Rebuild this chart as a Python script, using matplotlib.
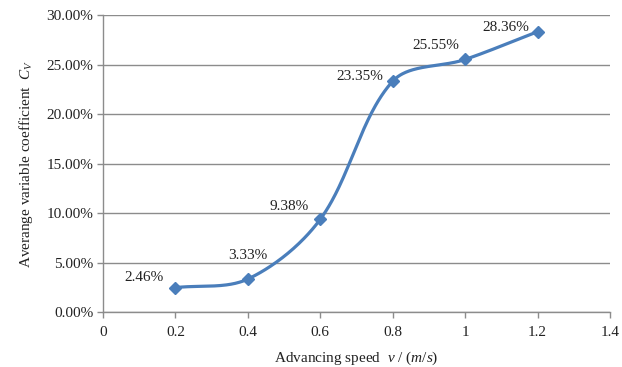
import numpy as np
import matplotlib
matplotlib.use("Agg")
import matplotlib.pyplot as plt
from matplotlib.ticker import FuncFormatter

speed = [0.2, 0.4, 0.6, 0.8, 1.0, 1.2]
cv = [2.46, 3.33, 9.38, 23.35, 25.55, 28.36]
labels = ["2.46%", "3.33%", "9.38%", "23.35%", "25.55%", "28.36%"]
label_offsets_px = [(-31, 10), (0, 24), (-31, 13), (-33, 5), (-29, 14), (-32, 4)]

plt.rcParams['font.family'] = ['Liberation Serif', 'DejaVu Serif']
plt.rcParams['mathtext.fontset'] = 'custom'
plt.rcParams['mathtext.rm'] = 'Liberation Serif'
plt.rcParams['mathtext.it'] = 'Liberation Serif:italic'

fig = plt.figure(figsize=(6.22, 3.67), dpi=100)
ax = fig.add_axes([0.1656, 0.150, 0.8151, 0.8078])
ax.set_xlim(0, 1.4)
ax.set_ylim(0, 30)

# smoothed curve (distance-weighted Bezier, like Excel smoothing), computed in display space
P = ax.transData.transform(np.column_stack([speed, cv]))
ext = np.vstack([P[0], P, P[-1]])
curve = []
t = np.linspace(0, 1, 80)[:, None]
for i in range(len(P) - 1):
    p0, p1, p2, p3 = ext[i], ext[i + 1], ext[i + 2], ext[i + 3]
    d01 = np.linalg.norm(p1 - p0)
    d12 = np.linalg.norm(p2 - p1)
    d23 = np.linalg.norm(p3 - p2)
    f1 = d12 / (d01 + d12) / 3 if d01 > 0 else 1 / 6
    f2 = d12 / (d12 + d23) / 3 if d23 > 0 else 1 / 6
    c1 = p1 + (p2 - p0) * (f1 if d01 > 0 else 1 / 3)
    c2 = p2 - (p3 - p1) * (f2 if d23 > 0 else 1 / 3)
    seg = ((1 - t) ** 3) * p1 + 3 * ((1 - t) ** 2) * t * c1 + 3 * (1 - t) * t ** 2 * c2 + t ** 3 * p2
    curve.append(seg)
curve = ax.transData.inverted().transform(np.vstack(curve))

color = '#4A7EBB'
ax.plot(curve[:, 0], curve[:, 1], color=color, lw=2.3, zorder=3, solid_capstyle='round')
ax.plot(speed, cv, linestyle='none', marker='D', ms=6.5, color=color, zorder=4)

for x, y, s, (dx, dy) in zip(speed, cv, labels, label_offsets_px):
    ax.annotate(s, (x, y), xytext=(dx * 0.72, dy * 0.72), textcoords='offset points',
                ha='center', va='center', fontsize=11, color='#222222')

ax.set_xticks(np.arange(0, 1.41, 0.2))
ax.set_xticklabels(['0', '0.2', '0.4', '0.6', '0.8', '1', '1.2', '1.4'])
ax.set_yticks(np.arange(0, 30.1, 5))
ax.yaxis.set_major_formatter(FuncFormatter(lambda v, p: f"{v:.2f}%"))
ax.grid(axis='y', color='#8c8c8c', lw=1.0)
ax.set_axisbelow(True)
for s in ['top', 'right']:
    ax.spines[s].set_visible(False)
for s in ['left', 'bottom']:
    ax.spines[s].set_color('#8c8c8c')
    ax.spines[s].set_linewidth(1.0)
ax.tick_params(axis='both', colors='#8c8c8c', length=4, width=1.0, labelsize=11, labelcolor='#222222')
ax.tick_params(axis='x', pad=6)
ax.tick_params(axis='y', pad=3)

ax.set_ylabel('Averange variable coefficient  $C_V$', fontsize=11, color='#222222', labelpad=8)
ax.set_xlabel('Advancing speed  $v$ / ($m/s$)', fontsize=11, color='#222222', labelpad=8)

fig.savefig('out.png', dpi=100)
